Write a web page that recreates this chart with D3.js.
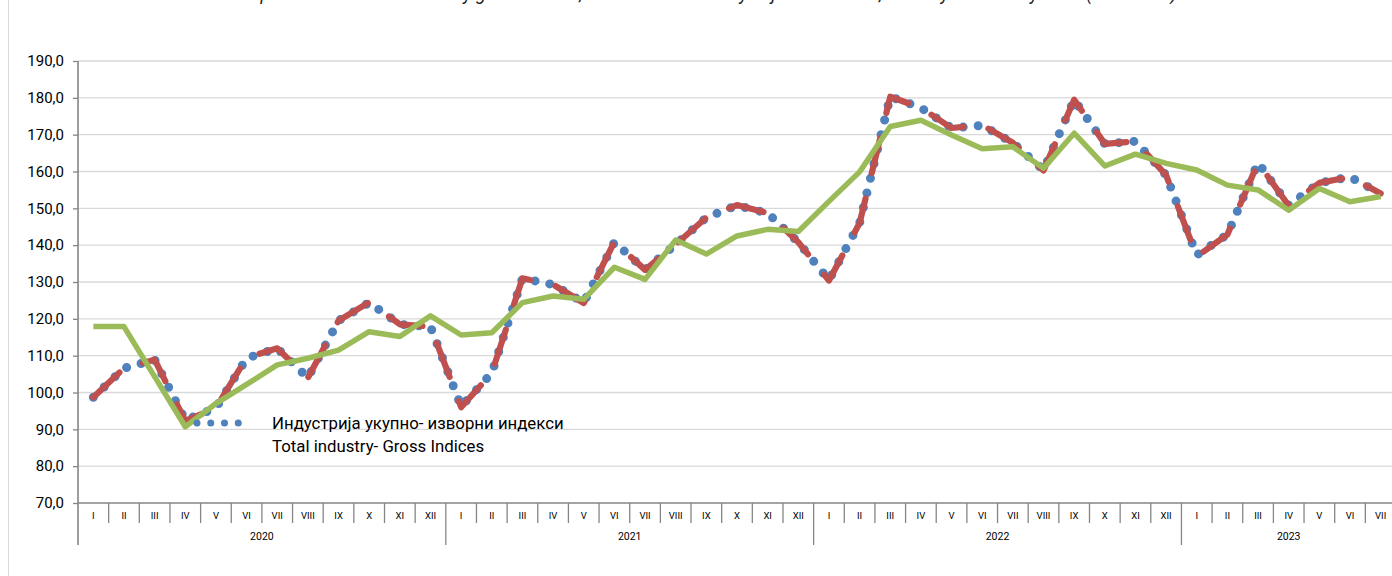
<!DOCTYPE html>
<html>
<head>
<meta charset="utf-8">
<script src="https://cdn.jsdelivr.net/npm/d3@7"></script>
<style>
  body { margin: 0; background: #fff; }
  svg { display: block; font-family: Roboto, "Noto Sans", sans-serif; }
</style>
</head>
<body>
<svg id="chart" width="1392" height="576"></svg>
<script>
const years = ["2020", "2021", "2022", "2023"];
const monthsPerYear = [12, 12, 12, 7];
const monthLabels = ["I", "II", "III", "IV", "V", "VI", "VII", "VIII", "IX", "X", "XI", "XII"];
const yTicks = [70, 80, 90, 100, 110, 120, 130, 140, 150, 160, 170, 180, 190];

// Total industry - gross indices (blue dotted)
const grossIndices = [
  98.7, 106.6, 108.9, 92.5, 95.8, 109.3, 112.0, 104.0, 119.5, 124.4, 118.5, 117.9,
  96.2, 105.3, 131.0, 129.3, 124.4, 140.8, 133.3, 140.2, 147.5, 150.8, 148.7, 140.8,
  130.5, 146.0, 180.3, 177.3, 171.8, 172.5, 167.8, 160.4, 179.5, 167.5, 168.2, 159.0,
  137.3, 142.9, 162.4, 150.8, 156.9, 158.5, 154.0
];

// red dashed series
const adjustedIndices = [
  98.7, 106.6, 108.9, 92.3, 95.8, 109.4, 112.0, 104.0, 119.5, 124.5, 118.5, 117.9,
  96.0, 105.3, 131.0, 129.3, 124.3, 140.9, 133.3, 140.2, 147.5, 150.9, 148.7, 140.8,
  130.4, 146.0, 180.3, 177.3, 171.8, 172.6, 167.8, 160.3, 179.5, 167.5, 168.2, 159.0,
  136.9, 142.9, 162.4, 150.7, 156.9, 158.5, 154.0
];

// green trend series
const trendIndices = [
  117.9, 117.9, 104.3, 90.7, 97.0, 102.2, 107.5, 109.3, 111.5, 116.5, 115.2, 120.8,
  115.6, 116.2, 124.4, 126.2, 125.3, 134.0, 130.7, 141.4, 137.6, 142.5, 144.3, 143.7,
  151.9, 159.9, 172.2, 173.9, 169.9, 166.2, 166.7, 160.9, 170.4, 161.5, 164.7, 162.2,
  160.4, 156.3, 155.0, 149.5, 155.4, 151.8, 153.2
];

const title = "Graph 1: Index of total industry gross indices, trend and seasonally adjusted indices, January 2020 - July 2023 (2015=100)";
const legendLines = ["Индустрија укупно- изворни индекси", "Total industry- Gross Indices"];

const plotLeft = 78, plotRight = 1396, plotTop = 61, plotBottom = 503;
const svg = d3.select("#chart");

// category list built from the years / month counts
const categories = [];
years.forEach((yr, yi) => {
  for (let m = 0; m < monthsPerYear[yi]; m++) categories.push({ year: yr, month: monthLabels[m] });
});

const x = d3.scaleBand().domain(d3.range(categories.length)).range([plotLeft, plotRight]);
const y = d3.scaleLinear().domain([70, 190]).range([plotBottom, plotTop]);
const cx = i => x(i) + x.bandwidth() / 2;

// outer chart border
svg.append("rect")
  .attr("x", 8.5).attr("y", -20)
  .attr("width", 1500).attr("height", 700)
  .attr("fill", "none").attr("stroke", "#d9d9d9");

// title, mostly cut off at the top edge like the source
svg.append("text")
  .attr("x", 705).attr("y", 0)
  .attr("text-anchor", "middle")
  .attr("font-style", "italic")
  .attr("font-size", 18)
  .attr("fill", "#222")
  .text(title);

// gridlines
svg.append("g")
  .selectAll("line")
  .data(yTicks.slice(1))
  .join("line")
  .attr("x1", plotLeft).attr("x2", 1400)
  .attr("y1", d => y(d)).attr("y2", d => y(d))
  .attr("stroke", "#d9d9d9").attr("stroke-width", 1.3);

// y axis
const yAxis = d3.axisLeft(y).tickValues(yTicks).tickSize(5).tickPadding(9)
  .tickFormat(d => d3.format(".1f")(d).replace(".", ","));
const gy = svg.append("g").attr("transform", `translate(${plotLeft},0)`).call(yAxis);
gy.select(".domain").remove();
gy.selectAll(".tick line").attr("stroke", "#868686").attr("stroke-width", 1.3);
gy.selectAll(".tick text").attr("font-size", 15).attr("font-family", "Roboto").attr("fill", "#000");
svg.append("line")
  .attr("x1", plotLeft).attr("x2", plotLeft).attr("y1", plotTop).attr("y2", 545)
  .attr("stroke", "#868686").attr("stroke-width", 1.6);

// x axis (two levels: months and years)
svg.append("line")
  .attr("x1", plotLeft).attr("x2", plotRight).attr("y1", plotBottom).attr("y2", plotBottom)
  .attr("stroke", "#868686").attr("stroke-width", 1.6);

const gx = svg.append("g");
gx.selectAll(".sep")
  .data(d3.range(1, categories.length))
  .join("line")
  .attr("x1", i => x(i)).attr("x2", i => x(i))
  .attr("y1", plotBottom)
  .attr("y2", i => categories[i].month === "I" ? 545 : 523)
  .attr("stroke", "#868686").attr("stroke-width", 1.3);

gx.selectAll(".month")
  .data(categories)
  .join("text")
  .attr("x", (d, i) => cx(i)).attr("y", 519)
  .attr("text-anchor", "middle")
  .attr("font-size", 9.5)
  .attr("fill", "#000")
  .text(d => d.month);

let start = 0;
years.forEach((yr, yi) => {
  const n = monthsPerYear[yi];
  const x0 = x(start), x1 = x(start + n - 1) + x.bandwidth();
  gx.append("text")
    .attr("x", (x0 + x1) / 2).attr("y", 540)
    .attr("text-anchor", "middle")
    .attr("font-size", 10.5)
    .attr("fill", "#000")
    .text(yr);
  start += n;
});

// series
const line = d3.line().x((d, i) => cx(i)).y(d => y(d));

svg.append("path")
  .datum(grossIndices)
  .attr("d", line)
  .attr("fill", "none")
  .attr("stroke", "#4f81bd")
  .attr("stroke-width", 9)
  .attr("stroke-linecap", "round")
  .attr("stroke-dasharray", "0 15");

svg.append("path")
  .datum(adjustedIndices)
  .attr("d", line)
  .attr("fill", "none")
  .attr("stroke", "#c0504d")
  .attr("stroke-width", 6.2)
  .attr("stroke-linecap", "round")
  .attr("stroke-linejoin", "round")
  .attr("stroke-dasharray", "36 26");

svg.append("path")
  .datum(trendIndices)
  .attr("d", line)
  .attr("fill", "none")
  .attr("stroke", "#9bbb59")
  .attr("stroke-width", 5.5)
  .attr("stroke-linejoin", "round");

// legend
const legend = svg.append("g").attr("transform", "translate(197,423)");
legend.append("line")
  .attr("x1", 0).attr("x2", 55).attr("y1", 0).attr("y2", 0)
  .attr("stroke", "#4f81bd")
  .attr("stroke-width", 7)
  .attr("stroke-linecap", "round")
  .attr("stroke-dasharray", "0 13.75");
legend.selectAll("text")
  .data(legendLines)
  .join("text")
  .attr("x", 75)
  .attr("y", (d, i) => 6 + i * 23)
  .attr("font-size", 16.8)
  .attr("fill", "#000")
  .text(d => d);
</script>
</body>
</html>
